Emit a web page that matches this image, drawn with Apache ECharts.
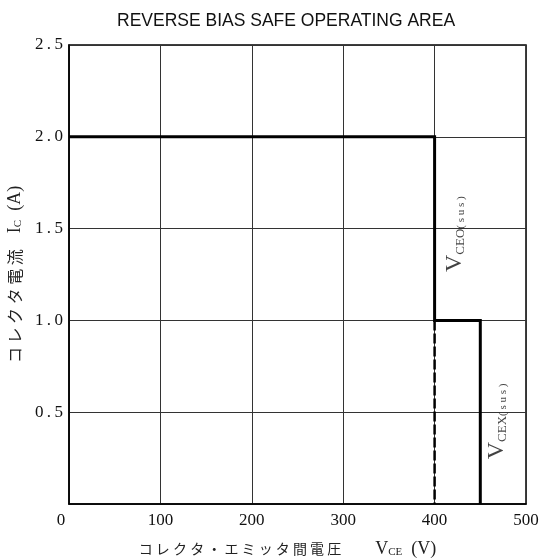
<!DOCTYPE html>
<html>
<head>
<meta charset="utf-8">
<script src="https://cdn.jsdelivr.net/npm/echarts@6/dist/echarts.min.js"></script>
<style>
html,body{margin:0;padding:0;background:#fff;}
#c{width:539px;height:559px;}
</style>
</head>
<body>
<div id="c"></div>
<script>
// ---- data ----
const titleText = 'REVERSE BIAS SAFE OPERATING AREA';
const xTickLabels = ['0', '100', '200', '300', '400', '500'];
const yTickLabels = ['', '0.5', '1.0', '1.5', '2.0', '2.5'];
const xRange = [0, 500];
const yRange = [0, 2.5];
const soaSolid = [[0, 2.0], [400, 2.0], [400, 1.0], [450, 1.0], [450, 0]];
const soaDashed = [[400, 1.0], [400, 0]];
const curveLabels = [
  { name: 'CEO', value: [422, 1.47] },
  { name: 'CEX', value: [468, 0.45] }
];

const chart = echarts.init(document.getElementById('c'), null, { renderer: 'canvas' });
const serif = '"Liberation Serif", "DejaVu Serif", serif';
const jp = '"Noto Sans CJK JP", sans-serif';
const spaced = s => s.split('').join(' ');
const thin = s => s.split('').join('\u2009');

const option = {
  backgroundColor: '#fff',
  animation: false,
  title: {
    text: titleText,
    left: 112, top: 7,
    textStyle: { fontFamily: '"Liberation Sans", sans-serif', fontWeight: 'normal', fontSize: 17.5, color: '#111' }
  },
  grid: { left: 69, right: 13, top: 45, bottom: 55, show: true, borderColor: '#000', borderWidth: 1.5, outerBoundsMode: 'none', containLabel: false },
  xAxis: {
    type: 'value', min: xRange[0], max: xRange[1], interval: 100,
    axisLine: { show: true, lineStyle: { color: '#000', width: 1.5 } },
    axisTick: { show: false },
    splitLine: { show: true, lineStyle: { color: '#333', width: 1 } },
    axisLabel: {
      margin: 8, color: '#111', fontFamily: serif, fontSize: 17,
      formatter: function (v) {
        const s = xTickLabels[Math.round(v / 100)];
        return v === 0 ? '{z|' + s + '}' : s;
      },
      rich: { z: { fontFamily: serif, fontSize: 17, color: '#111', padding: [0, 16, 0, 0] } }
    },
    name: '{j|' + spaced('コレクタ・エミッタ間電圧') + '}{vl|V}{s|CE}{p|(V)}',
    nameLocation: 'middle', nameGap: 36,
    nameTextStyle: {
      padding: [0, 20, 0, 0],
      rich: {
        j: { fontFamily: jp, fontSize: 14, color: '#222' },
        vl: { fontFamily: serif, fontSize: 18, color: '#222', padding: [0, 0, 0, 34] },
        p: { fontFamily: serif, fontSize: 18, color: '#222', padding: [0, 0, 0, 9] },
        s: { fontFamily: serif, fontSize: 11, color: '#222', verticalAlign: 'bottom', padding: [6, 0, 0, 0] }
      }
    }
  },
  yAxis: {
    type: 'value', min: yRange[0], max: yRange[1], interval: 0.5,
    axisLine: { show: true, lineStyle: { color: '#000', width: 1.5 } },
    axisTick: { show: false },
    splitLine: { show: true, lineStyle: { color: '#333', width: 1 } },
    axisLabel: {
      margin: 6, color: '#111', fontFamily: serif, fontSize: 17,
      formatter: function (v) { return thin(yTickLabels[Math.round(v / 0.5)]); }
    },
    name: '{j|' + spaced('コレクタ電流') + '}{l|I}{s|C}{p|(A)}',
    nameLocation: 'middle', nameGap: 40, nameRotate: 90,
    nameTextStyle: {
      rich: {
        j: { fontFamily: jp, fontSize: 16, color: '#222' },
        l: { fontFamily: serif, fontSize: 18, color: '#222', padding: [0, 0, 0, 16] },
        p: { fontFamily: serif, fontSize: 18, color: '#222', padding: [0, 0, 0, 9] },
        s: { fontFamily: serif, fontSize: 11, color: '#222', verticalAlign: 'bottom', padding: [6, 0, 0, 0] }
      }
    }
  },
  series: [
    {
      type: 'line', data: soaSolid, symbol: 'none', z: 5,
      lineStyle: { color: '#000', width: 3, join: 'miter' }
    },
    {
      type: 'line', data: soaDashed, symbol: 'none', z: 4,
      lineStyle: { color: '#000', width: 2.5, type: [10, 3] }
    },
    {
      type: 'scatter', data: curveLabels, symbolSize: 1, itemStyle: { color: 'rgba(0,0,0,0)' }, z: 6,
      label: {
        show: true, position: 'inside', rotate: 90, align: 'center', verticalAlign: 'middle',
        formatter: function (p) { return '{v|V}{s|' + p.name + '}{t|( s u s )}'; },
        rich: {
          v: { fontFamily: serif, fontSize: 24, color: '#111', lineHeight: 24 },
          s: { fontFamily: serif, fontSize: 13, color: '#111', verticalAlign: 'bottom', padding: [9, 0, 0, 0], lineHeight: 24 },
          t: { fontFamily: serif, fontSize: 11, color: '#111', verticalAlign: 'bottom', padding: [9, 0, 0, 0], lineHeight: 24 }
        }
      }
    }
  ]
};
chart.setOption(option);
</script>
</body>
</html>
